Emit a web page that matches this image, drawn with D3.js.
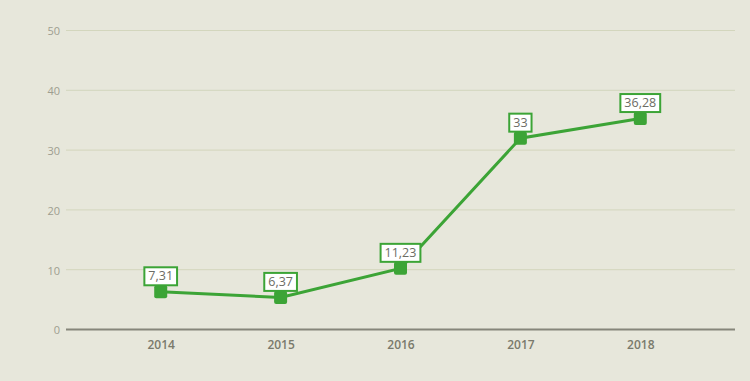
<!DOCTYPE html>
<html><head><meta charset="utf-8">
<script src="https://cdn.jsdelivr.net/npm/d3@7"></script>
<style>html,body{margin:0;padding:0;background:#e7e7db;}svg{display:block;}</style>
</head><body>
<svg id="c" width="750" height="381"></svg>
<script>
const years = ["2014","2015","2016","2017","2018"];
const values = [7.31, 6.37, 11.23, 33, 36.28];
const labels = ["7,31","6,37","11,23","33","36,28"];
const yTicks = [0,10,20,30,40,50];

(function(){
const W=750,H=381, mL=66, mR=735, mT=30, mB=329;
const svg=d3.select("#c");
svg.append("rect").attr("width",W).attr("height",H).attr("fill","#e7e7db");
const x=d3.scalePoint().domain(years).range([mL,mR]).padding(0.79);
const y=d3.scaleLinear().domain([0,50]).range([mB,mT]);
const green="#3ca436";

const yAxis=d3.axisLeft(y).tickValues(yTicks).tickSize(-(mR-mL)).tickPadding(6);
const gy=svg.append("g").attr("transform",`translate(${mL},0)`).call(yAxis);
gy.select(".domain").remove();
gy.selectAll(".tick line").attr("stroke","#d3d6bd").attr("stroke-width",1);
gy.selectAll(".tick text").attr("fill","#9e9e90").attr("font-family","Open Sans, sans-serif").attr("font-size",11).attr("font-weight",500).attr("dy","0.45em");
gy.selectAll(".tick").filter(d=>d===0).select("line").attr("stroke","#86867a").attr("stroke-width",2);

const xAxis=d3.axisBottom(x).tickSize(0).tickPadding(11);
const gx=svg.append("g").attr("transform",`translate(0,${mB})`).call(xAxis);
gx.select(".domain").remove();
gx.selectAll(".tick text").attr("fill","#7a7a6c").attr("font-family","Open Sans, sans-serif").attr("font-size",12).attr("font-weight",600);

const ms=13, off=ms/2;
const data=years.map((yr,i)=>({yr,v:values[i],l:labels[i]}));
const line=d3.line().x(d=>x(d.yr)).y(d=>y(d.v)+off);
svg.append("path").datum(data).attr("d",line).attr("fill","none").attr("stroke",green).attr("stroke-width",3);
svg.selectAll("rect.m").data(data).enter().append("rect").attr("class","m")
  .attr("x",d=>x(d.yr)-ms/2).attr("y",d=>y(d.v)).attr("width",ms).attr("height",ms).attr("rx",2).attr("fill",green);

const lg=svg.selectAll("g.lab").data(data).enter().append("g").attr("class","lab");
lg.each(function(d){
  const g=d3.select(this);
  const t=g.append("text").text(d.l).attr("font-family","Open Sans, sans-serif").attr("font-size",12.5).attr("font-weight",500).attr("fill","#6c6c64").attr("text-anchor","middle")
    .attr("x",x(d.yr)).attr("y",y(d.v)-5);
  const w=t.node().getComputedTextLength()+8;
  g.insert("rect","text").attr("x",x(d.yr)-w/2).attr("y",y(d.v)-18).attr("width",w).attr("height",18)
    .attr("fill","#fff").attr("stroke",green).attr("stroke-width",2);
});
})();
</script>
</body></html>
